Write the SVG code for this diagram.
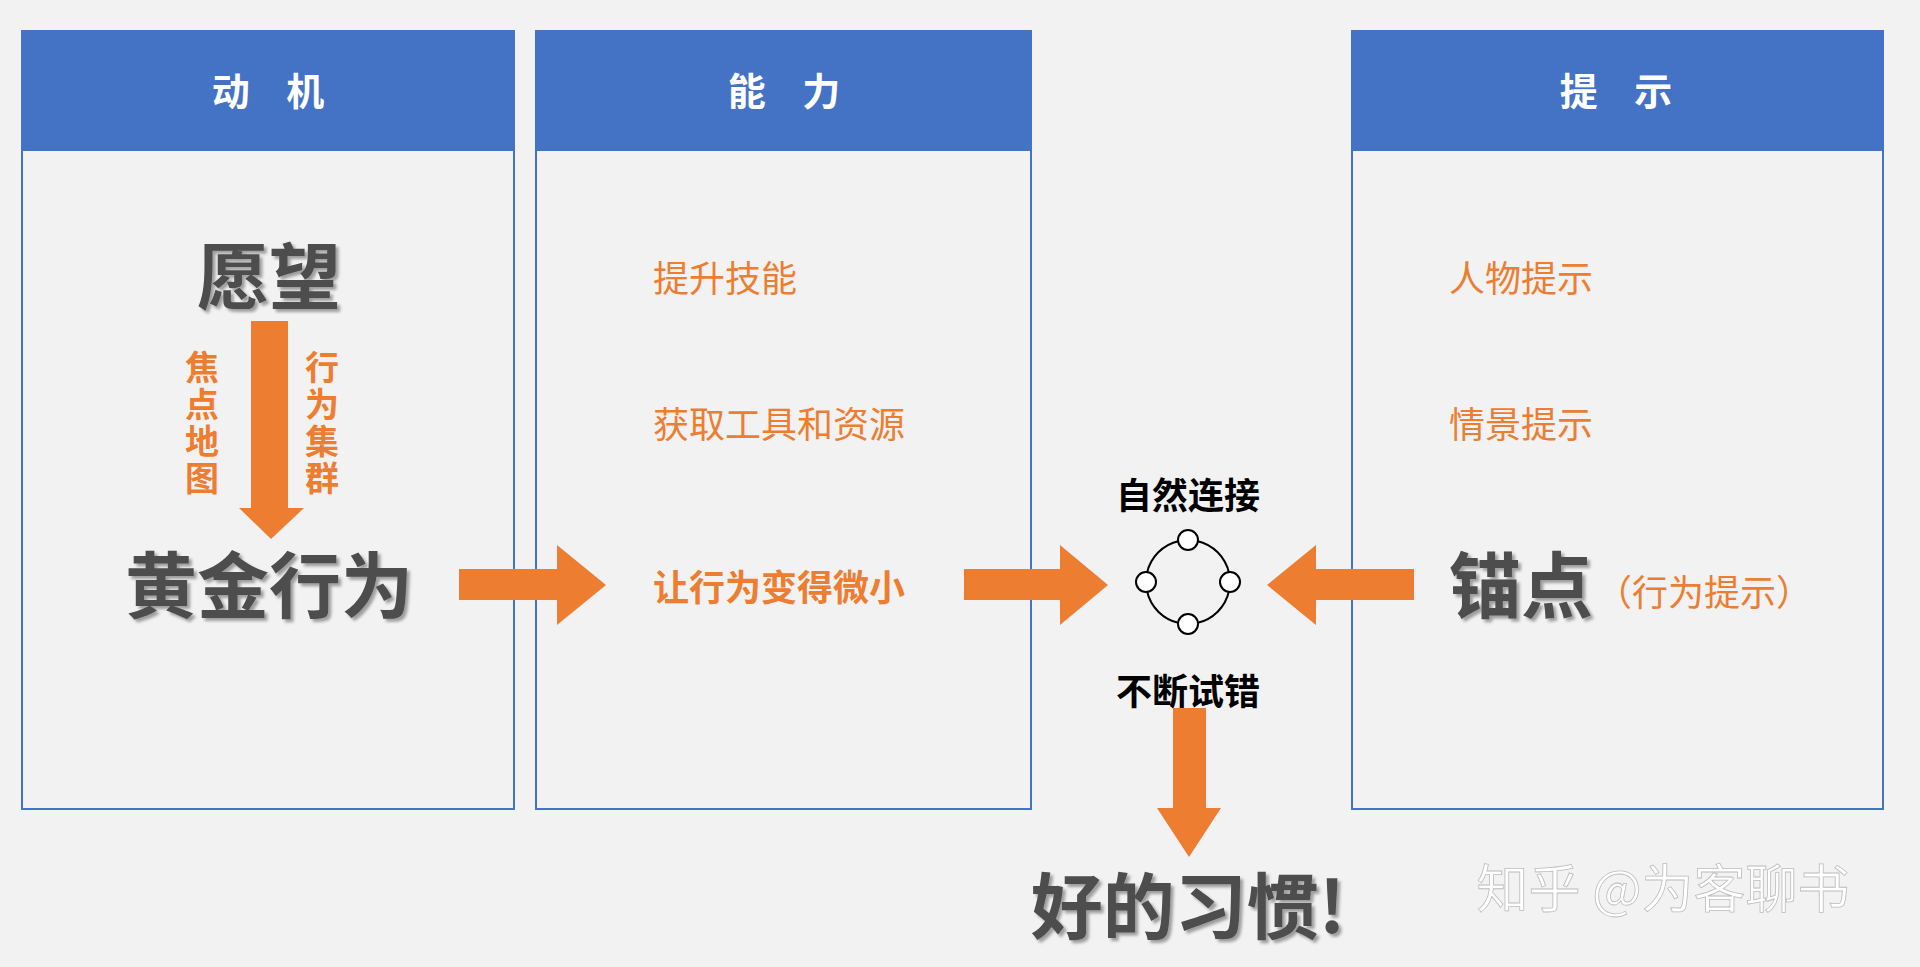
<svg xmlns="http://www.w3.org/2000/svg" width="1920" height="967" viewBox="0 0 1920 967">
<defs>
<style>
.box{fill:#f2f2f2;stroke:#4472c4;stroke-width:2}
.hdr{fill:#4472c4}
.ht{font-family:"Noto Sans CJK SC",sans-serif;font-weight:bold;font-size:38px;fill:#fff;text-anchor:middle;letter-spacing:14px}
.big{font-family:"Noto Sans CJK SC",sans-serif;font-weight:bold;font-size:72px;fill:#4d4d4d}
.or{font-family:"Noto Sans CJK SC",sans-serif;font-size:36px;fill:#ed7d31}
.orb{font-family:"Noto Sans CJK SC",sans-serif;font-weight:bold;font-size:34px;fill:#ed7d31;writing-mode:vertical-rl;letter-spacing:3px}
.bk{font-family:"Noto Sans CJK SC",sans-serif;font-weight:bold;font-size:36px;fill:#000;text-anchor:middle}
.arr{fill:#ed7d31}
</style>
<filter id="sh"><feDropShadow dx="3" dy="3" stdDeviation="1.5" flood-color="#000" flood-opacity="0.35"/></filter>
</defs>
<rect width="1920" height="967" fill="#f2f2f2"/>
<g id="motivation">
<rect class="box" x="22" y="31" width="492" height="778"/>
<rect class="hdr" x="22" y="31" width="492" height="120"/>
<text class="ht" x="275" y="105">动 机</text>
<text class="big" x="269" y="303" text-anchor="middle" filter="url(#sh)">愿望</text>
<text class="orb" x="202" y="350">焦点地图</text>
<text class="orb" x="322" y="350">行为集群</text>
<text class="big" x="269" y="612" text-anchor="middle" filter="url(#sh)">黄金行为</text>
</g>
<g id="ability">
<rect class="box" x="536" y="31" width="495" height="778"/>
<rect class="hdr" x="536" y="31" width="495" height="120"/>
<text class="ht" x="791" y="105">能 力</text>
<text class="or" x="653" y="292">提升技能</text>
<text class="or" x="653" y="438">获取工具和资源</text>
<text class="or" x="653" y="601" font-weight="bold">让行为变得微小</text>
</g>
<g id="prompt">
<rect class="box" x="1352" y="31" width="531" height="778"/>
<rect class="hdr" x="1352" y="31" width="531" height="120"/>
<text class="ht" x="1623" y="105">提 示</text>
<text class="or" x="1449" y="292">人物提示</text>
<text class="or" x="1449" y="438">情景提示</text>
<text class="big" x="1449" y="612" filter="url(#sh)">锚点</text>
<text class="or" x="1596" y="606">（行为提示）</text>
</g>
<g id="center">
<text class="bk" x="1188" y="509">自然连接</text>
<g fill="none" stroke="#000" stroke-width="2">
<path d="M1197,541 A42,42 0 0 1 1229,573"/>
<path d="M1229,591 A42,42 0 0 1 1197,623"/>
<path d="M1179,623 A42,42 0 0 1 1147,591"/>
<path d="M1147,573 A42,42 0 0 1 1179,541"/>
<circle cx="1188" cy="540" r="10" fill="#fff"/>
<circle cx="1146" cy="582" r="10" fill="#fff"/>
<circle cx="1230" cy="582" r="10" fill="#fff"/>
<circle cx="1188" cy="624" r="10" fill="#fff"/>
</g>
<text class="bk" x="1188" y="705">不断试错</text>
<text class="big" x="1188" y="933" text-anchor="middle" filter="url(#sh)">好的习惯!</text>
</g>
<g id="connectors">
<polygon class="arr" points="251,321 288,321 288,508 304,508 271,539 239,508 251,508"/>
<polygon class="arr" points="459,569 557,569 557,545 606,585 557,625 557,600 459,600"/>
<polygon class="arr" points="964,569 1060,569 1060,545 1108,585 1060,625 1060,600 964,600"/>
<polygon class="arr" points="1414,569 1316,569 1316,545 1267,585 1316,625 1316,600 1414,600"/>
<polygon class="arr" points="1173,708 1206,708 1206,808 1221,808 1189,857 1157,808 1173,808"/>
</g>
<text x="1663" y="908" font-family="Noto Sans CJK SC,sans-serif" font-size="52" fill="#fff" stroke="#bbb" stroke-width="0.8" text-anchor="middle">知乎 @为客聊书</text>
</svg>
